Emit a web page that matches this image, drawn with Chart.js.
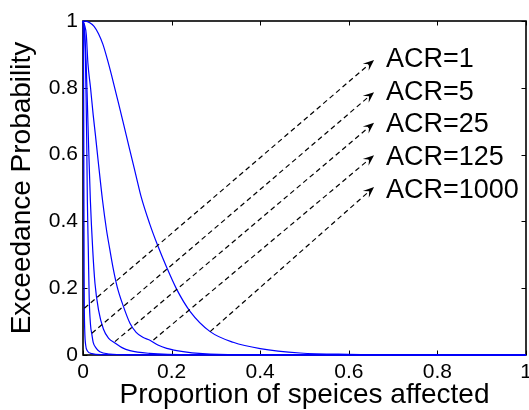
<!DOCTYPE html>
<html><head><meta charset="utf-8">
<script src="https://cdn.jsdelivr.net/npm/chart.js@4.4.1/dist/chart.umd.min.js"></script>
<style>html,body{margin:0;padding:0;background:#fff;}canvas{display:block;}</style>
</head><body>
<canvas id="c" width="529" height="410"></canvas>
<script>
// ---- data ----
const xTicks = [0, 0.2, 0.4, 0.6, 0.8, 1];
const yTicks = [0, 0.2, 0.4, 0.6, 0.8, 1];

const curveAx = [0, 0.008, 0.015, 0.025, 0.035, 0.045, 0.055, 0.064, 0.079, 0.090, 0.105, 0.120, 0.131, 0.150, 0.168, 0.189, 0.211, 0.242, 0.287, 0.339, 0.40, 0.49, 0.6, 0.8, 1];
const curveAy = [1, 0.999, 0.995, 0.984, 0.962, 0.93, 0.885, 0.84, 0.76, 0.70, 0.617, 0.535, 0.475, 0.395, 0.33, 0.262, 0.198, 0.13, 0.07, 0.038, 0.019, 0.006, 0.002, 0.0005, 0];

const curveBx = [0, 0.003, 0.0075, 0.011, 0.017, 0.023, 0.028, 0.034, 0.044, 0.053, 0.060, 0.068, 0.077, 0.090, 0.106, 0.120, 0.135, 0.150, 0.169, 0.189, 0.226, 0.27, 0.35, 1];
const curveBy = [1, 0.99, 0.958, 0.875, 0.80, 0.719, 0.659, 0.584, 0.464, 0.375, 0.32, 0.26, 0.205, 0.15, 0.095, 0.068, 0.053, 0.045, 0.03, 0.02, 0.01, 0.004, 0.001, 0];

const curveCx = [0, 0.002, 0.004, 0.007, 0.010, 0.013, 0.0166, 0.022, 0.027, 0.035, 0.046, 0.058, 0.072, 0.088, 0.106, 0.15, 0.25, 1];
const curveCy = [1, 0.99, 0.96, 0.88, 0.75, 0.61, 0.464, 0.314, 0.215, 0.135, 0.078, 0.05, 0.036, 0.022, 0.013, 0.005, 0.001, 0];

const curveDx = [0, 0.002, 0.004, 0.0055, 0.007, 0.0085, 0.0098, 0.012, 0.014, 0.017, 0.020, 0.023, 0.030, 0.038, 0.06, 0.1, 1];
const curveDy = [1, 0.985, 0.95, 0.88, 0.77, 0.63, 0.464, 0.314, 0.17, 0.09, 0.062, 0.038, 0.02, 0.01, 0.003, 0.0005, 0];

const curveEx = [0, 0.0008, 0.0015, 0.002, 0.0025, 0.003, 0.004, 0.006, 0.01, 0.02, 0.04, 1];
const curveEy = [1, 0.95, 0.8, 0.5, 0.25, 0.14, 0.07, 0.03, 0.012, 0.004, 0.001, 0];

const arrowLabels = ['ACR=1', 'ACR=5', 'ACR=25', 'ACR=125', 'ACR=1000'];
const arrowFromX = [0.003, 0.020, 0.072, 0.159, 0.287];
const arrowFromY = [0.14, 0.065, 0.04, 0.045, 0.07];
const arrowToX = [0.657, 0.657, 0.657, 0.657, 0.657];
const arrowToY = [0.883, 0.787, 0.695, 0.598, 0.503];
const labelX = [0.684, 0.684, 0.684, 0.684, 0.684];
const labelY = [0.886, 0.787, 0.689, 0.590, 0.491];

const xTitle = 'Proportion of speices affected';
const yTitle = 'Exceedance Probability';

// ---- chart ----
const FONT = '"Liberation Sans", Arial, Helvetica, sans-serif';
Chart.defaults.font.family = FONT;
Chart.defaults.color = '#000';

const zip = (xs, ys) => xs.map((x, i) => ({x: x, y: ys[i]}));
const curveStyle = {borderColor: '#0000ff', borderWidth: 1.2, pointRadius: 0, fill: false,
  cubicInterpolationMode: 'monotone', clip: 3};

const boxPlugin = {
  id: 'boxTicks',
  beforeDatasetsDraw(chart) {
    const {ctx, chartArea: a, scales: {x, y}} = chart;
    ctx.save();
    ctx.strokeStyle = '#000';
    ctx.lineWidth = 1.6;
    ctx.strokeRect(a.left, a.top, a.right - a.left, a.bottom - a.top);
    ctx.lineWidth = 1;
    const L = 4.5;
    ctx.beginPath();
    xTicks.forEach(v => {
      const px = Math.round(x.getPixelForValue(v)) + 0.5;
      ctx.moveTo(px, a.bottom); ctx.lineTo(px, a.bottom - L);
      ctx.moveTo(px, a.top); ctx.lineTo(px, a.top + L);
    });
    yTicks.forEach(v => {
      const py = Math.round(y.getPixelForValue(v)) + 0.5;
      ctx.moveTo(a.left, py); ctx.lineTo(a.left + L, py);
      ctx.moveTo(a.right, py); ctx.lineTo(a.right - L, py);
    });
    ctx.stroke();
    ctx.restore();
  }
};

const arrowPlugin = {
  id: 'arrows',
  afterDatasetsDraw(chart) {
    const {ctx, scales: {x, y}} = chart;
    ctx.save();
    arrowLabels.forEach((lab, i) => {
      const x0 = x.getPixelForValue(arrowFromX[i]), y0 = y.getPixelForValue(arrowFromY[i]);
      const x1 = x.getPixelForValue(arrowToX[i]), y1 = y.getPixelForValue(arrowToY[i]);
      const ang = Math.atan2(y1 - y0, x1 - x0);
      const len = 11, hw = 4.5, notch = 6.5;
      const bx = x1 - notch * Math.cos(ang), by = y1 - notch * Math.sin(ang);
      ctx.strokeStyle = '#000';
      ctx.lineWidth = 1.2;
      ctx.setLineDash([5, 3.5]);
      ctx.beginPath();
      ctx.moveTo(x0, y0); ctx.lineTo(bx, by);
      ctx.stroke();
      ctx.setLineDash([]);
      const cx = x1 - len * Math.cos(ang), cy = y1 - len * Math.sin(ang);
      const nx = -Math.sin(ang), ny = Math.cos(ang);
      ctx.fillStyle = '#000';
      ctx.beginPath();
      ctx.moveTo(x1, y1);
      ctx.lineTo(cx + nx * hw, cy + ny * hw);
      ctx.lineTo(bx, by);
      ctx.lineTo(cx - nx * hw, cy - ny * hw);
      ctx.closePath();
      ctx.fill();
      ctx.font = '27px ' + FONT;
      ctx.textAlign = 'left';
      ctx.textBaseline = 'middle';
      ctx.fillText(lab, x.getPixelForValue(labelX[i]), y.getPixelForValue(labelY[i]));
    });
    ctx.restore();
  }
};

new Chart(document.getElementById('c'), {
  type: 'line',
  data: {
    datasets: [
      Object.assign({label: 'A', data: zip(curveAx, curveAy)}, curveStyle),
      Object.assign({label: 'B', data: zip(curveBx, curveBy)}, curveStyle),
      Object.assign({label: 'C', data: zip(curveCx, curveCy)}, curveStyle),
      Object.assign({label: 'D', data: zip(curveDx, curveDy)}, curveStyle),
      Object.assign({label: 'E', data: zip(curveEx, curveEy)}, curveStyle)
    ]
  },
  options: {
    responsive: false,
    animation: false,
    devicePixelRatio: 1,
    layout: {padding: {top: 21, right: 3, left: 0, bottom: 0}},
    plugins: {legend: {display: false}, tooltip: {enabled: false}},
    scales: {
      x: {
        type: 'linear', min: 0, max: 1,
        afterBuildTicks: s => { s.ticks = xTicks.map(v => ({value: v})); },
        afterFit: s => { s.height = 55; s.paddingRight = 0; s.paddingLeft = 0; },
        grid: {display: false, drawTicks: false, tickLength: 0},
        border: {display: false},
        ticks: {font: {size: 21}, padding: 5, maxRotation: 0, autoSkip: false, callback: v => String(v)},
        title: {display: true, text: xTitle, font: {size: 28, lineHeight: 1}, padding: {top: 0, bottom: 1}}
      },
      y: {
        type: 'linear', min: 0, max: 1,
        afterBuildTicks: s => { s.ticks = yTicks.map(v => ({value: v})); },
        afterFit: s => { s.width = 83; s.paddingTop = 0; s.paddingBottom = 0; },
        grid: {display: false, drawTicks: false, tickLength: 0},
        border: {display: false},
        ticks: {font: {size: 21}, padding: 5, autoSkip: false, callback: v => String(v)},
        title: {display: true, text: yTitle, font: {size: 28, lineHeight: 1}, padding: {top: 8, bottom: 0}}
      }
    }
  },
  plugins: [boxPlugin, arrowPlugin]
});
</script>
</body></html>
